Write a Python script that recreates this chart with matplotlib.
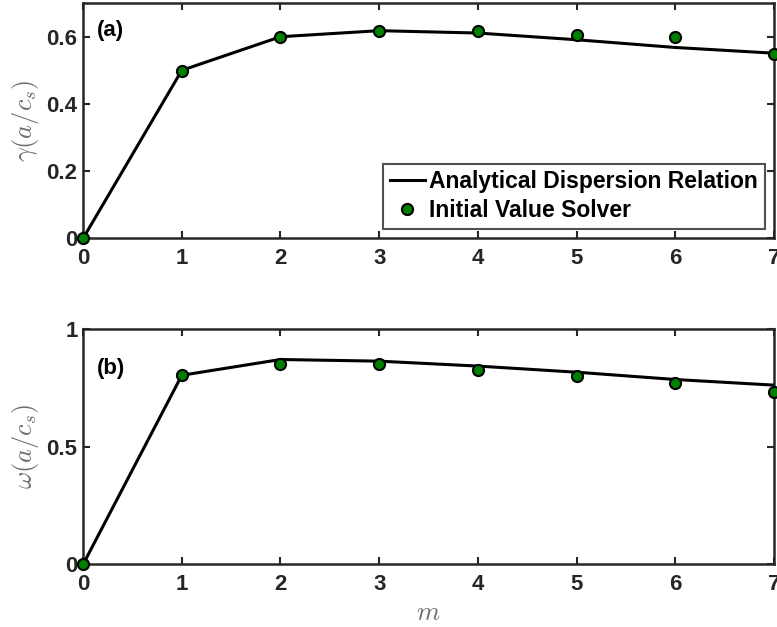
import numpy as np
import matplotlib
matplotlib.use("Agg")
import matplotlib.pyplot as plt

plt.rcParams['font.family'] = ['Liberation Sans', 'DejaVu Sans']
plt.rcParams['font.weight'] = 'bold'
plt.rcParams['mathtext.fontset'] = 'cm'

# azimuthal mode number
m = [0, 1, 2, 3, 4, 5, 6, 7]

# growth rate
gamma_analytic = [0.0, 0.500, 0.600, 0.618, 0.611, 0.591, 0.568, 0.551]
gamma_ivp = [0.0, 0.498, 0.599, 0.618, 0.616, 0.606, 0.598, 0.548]

# real frequency
omega_analytic = [0.0, 0.804, 0.871, 0.864, 0.843, 0.817, 0.786, 0.762]
omega_ivp = [0.0, 0.804, 0.854, 0.850, 0.826, 0.801, 0.773, 0.731]

spine_col = '#262626'
label_col = '#6e6e6e'


def style_axes(ax, ylim, yticks, yticklabels):
    ax.set_xlim(0, 7)
    ax.set_ylim(*ylim)
    ax.set_xticks(m)
    ax.set_yticks(yticks)
    ax.set_yticklabels(yticklabels)
    ax.tick_params(direction='in', length=5, width=1.5, top=True, right=True,
                   labelsize=16, colors=spine_col)
    ax.tick_params(axis='x', pad=7)
    ax.tick_params(axis='y', pad=4)
    for lbl in ax.get_xticklabels() + ax.get_yticklabels():
        lbl.set_fontweight('bold')
        lbl.set_color('#262626')
    for s in ax.spines.values():
        s.set_linewidth(1.8)
        s.set_color(spine_col)


fig = plt.figure(figsize=(7.77, 6.27), dpi=100)
ax1 = fig.add_axes([0.107, 0.620, 0.889, 0.375])
ax2 = fig.add_axes([0.107, 0.100, 0.889, 0.375])

ax1.plot(m, gamma_analytic, color='black', lw=2.2,
         label='Analytical Dispersion Relation', zorder=3)
ax1.plot(m, gamma_ivp, 'o', color='green', mec='black', mew=1.5, ms=8,
         label='Initial Value Solver', zorder=4, clip_on=False)
style_axes(ax1, (0, 0.7), [0, 0.2, 0.4, 0.6], ['0', '0.2', '0.4', '0.6'])
ax1.set_ylabel(r'$\gamma(a/c_s)$', fontsize=19, color=label_col, labelpad=4)
ax1.text(0.02, 0.86, '(a)', transform=ax1.transAxes, fontsize=16,
         fontweight='bold', color='black')
leg = ax1.legend(loc='lower right', fontsize=16.5, frameon=True, fancybox=False,
                 edgecolor=spine_col, borderaxespad=0.4, handlelength=1.5,
                 handletextpad=0.2, borderpad=0.3, labelspacing=0.25)
leg.get_frame().set_linewidth(1.5)
for t in leg.get_texts():
    t.set_fontweight('bold')

ax2.plot(m, omega_analytic, color='black', lw=2.2, zorder=3)
ax2.plot(m, omega_ivp, 'o', color='green', mec='black', mew=1.5, ms=8,
         zorder=4, clip_on=False)
style_axes(ax2, (0, 1), [0, 0.5, 1], ['0', '0.5', '1'])
ax2.set_ylabel(r'$\omega(a/c_s)$', fontsize=19, color=label_col, labelpad=4)
ax2.set_xlabel(r'$m$', fontsize=19, color=label_col, labelpad=4)
ax2.text(0.02, 0.81, '(b)', transform=ax2.transAxes, fontsize=16,
         fontweight='bold', color='black')

fig.savefig('out.png', dpi=100)
